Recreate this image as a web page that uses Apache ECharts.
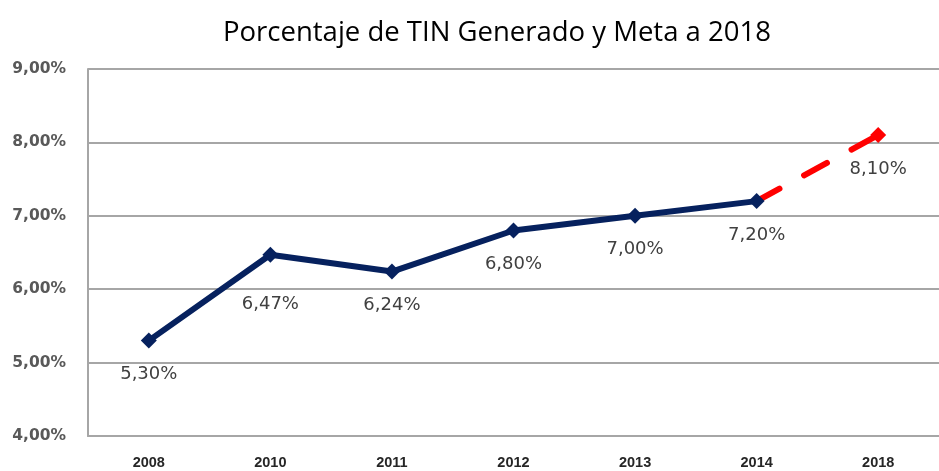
<!DOCTYPE html>
<html>
<head>
<meta charset="utf-8">
<script src="https://cdn.jsdelivr.net/npm/echarts@6/dist/echarts.min.js"></script>
<style>html,body{margin:0;padding:0;background:#fff;}#c{width:939px;height:471px;}</style>
</head>
<body>
<div id="c"></div>
<script>
const years = ['2008', '2010', '2011', '2012', '2013', '2014', '2018'];
const actual = [5.30, 6.47, 6.24, 6.80, 7.00, 7.20, null];
const meta = [null, null, null, null, null, 7.20, 8.10];
const yTicks = [4, 5, 6, 7, 8, 9];

const fmt = v => v.toFixed(2).replace('.', ',') + '%';
const chart = echarts.init(document.getElementById('c'));

const labelStyle = {
  show: true, position: 'bottom', offset: [0, 12],
  fontFamily: 'DejaVu Sans', fontSize: 18, color: '#404040',
  formatter: p => fmt(p.value)
};

const actualData = actual.map((v, i) => {
  if (v === null) return null;
  const item = { value: v };
  if (i === 1) item.label = { offset: [0, 28] };
  return item;
});
const metaData = meta.map((v, i) => {
  if (v === null) return null;
  if (i < meta.length - 1) return { value: v, symbol: 'none', label: { show: false } };
  return { value: v };
});

chart.setOption({
  animation: false,
  title: {
    text: 'Porcentaje de TIN Generado y Meta a 2018',
    left: 218, top: 14,
    textStyle: { fontFamily: 'Open Sans', fontSize: 27.5, fontWeight: 'normal', color: '#000' }
  },
  grid: { left: 88, top: 69, height: 367, width: 864.5, containLabel: false },
  xAxis: {
    type: 'category', data: years, boundaryGap: true,
    axisLine: { show: true, lineStyle: { color: '#a6a6a6', width: 2 } },
    axisTick: { show: false },
    axisLabel: { margin: 19, fontFamily: 'Liberation Sans', fontWeight: 'bold', fontSize: 14.5, color: '#262626' }
  },
  yAxis: {
    type: 'value', min: yTicks[0], max: yTicks[yTicks.length - 1], interval: 1,
    axisLine: { show: true, lineStyle: { color: '#a6a6a6', width: 2 } },
    axisTick: { show: false },
    splitLine: { show: true, lineStyle: { color: '#a6a6a6', width: 2 } },
    axisLabel: { margin: 22, fontFamily: 'DejaVu Sans', fontWeight: 'bold', fontSize: 15.5, color: '#595959', formatter: v => fmt(v) }
  },
  series: [
    {
      type: 'line', data: metaData, z: 2,
      lineStyle: { color: '#ff0000', width: 6, type: [26, 28], cap: 'round' },
      itemStyle: { color: '#ff0000' },
      symbol: 'diamond', symbolSize: 16, showSymbol: true,
      label: labelStyle
    },
    {
      type: 'line', data: actualData, z: 3,
      lineStyle: { color: '#06215e', width: 6 },
      itemStyle: { color: '#06215e' },
      symbol: 'diamond', symbolSize: 16,
      label: labelStyle
    }
  ]
});
</script>
</body>
</html>
